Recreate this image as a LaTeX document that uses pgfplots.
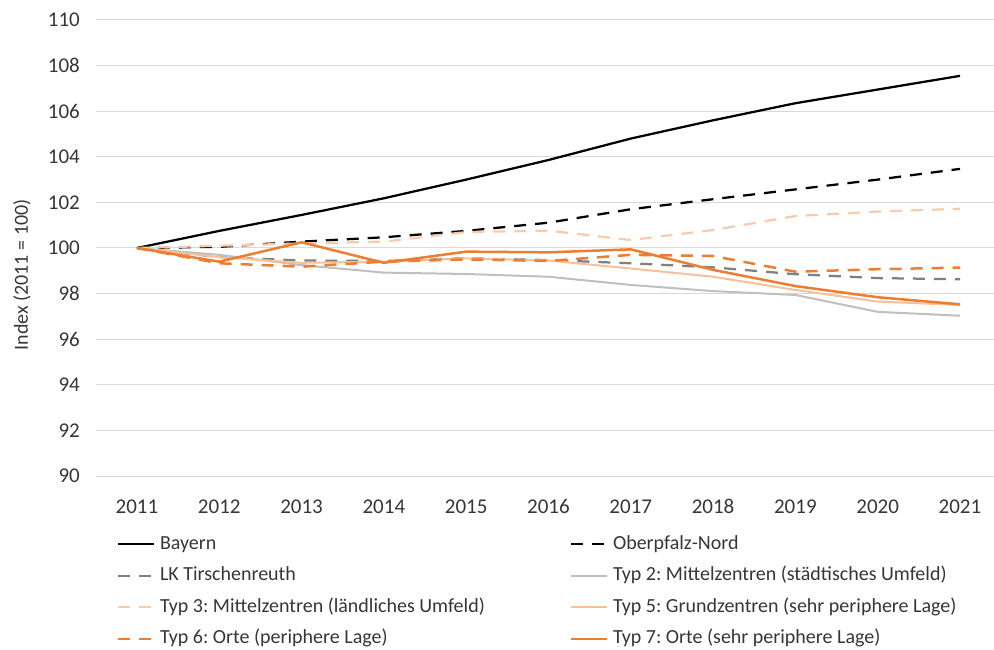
\documentclass[border=0pt]{standalone}
\usepackage{fontspec}
\setmainfont{Carlito}
\usepackage{pgfplots}
\pgfplotsset{compat=1.18}
\frenchspacing
\definecolor{txt}{HTML}{363636}
\definecolor{gridc}{HTML}{D9D9D9}
\definecolor{lkgrey}{HTML}{808080}
\definecolor{typtwo}{HTML}{BFBFBF}
\definecolor{typthree}{HTML}{F8CBAD}
\definecolor{typfive}{HTML}{F6C09A}
\definecolor{orng}{HTML}{ED7D31}
\newcommand{\lc}[1]{\makebox[410bp][l]{#1}}
\begin{document}
\begin{tikzpicture}
\begin{axis}[
  scale only axis, width=898bp, height=456bp,
  xmin=2010.502, xmax=2021.413, ymin=90, ymax=110,
  xtick={2011,...,2021}, ytick={90,92,...,110},
  ymajorgrids, grid style={gridc, line width=1bp},
  axis line style={draw=none}, major tick length=0pt,
  /pgf/number format/assume math mode=true,
  /pgf/number format/1000 sep={},
  tick label style={font=\fontsize{21bp}{25bp}\selectfont, text=txt},
  yticklabel style={inner sep=0pt, xshift=-16bp},
  xticklabel style={inner sep=0pt, text height=14bp, text depth=0pt, anchor=north, yshift=-23bp},
  ylabel={Index (2011 = 100)},
  every axis y label/.style={at={(axis description cs:-0.0824,0.4408)}, rotate=90, anchor=center, font=\fontsize{20bp}{24bp}\selectfont, text=txt},
  legend columns=2,
  legend image code/.code={\draw[#1] (0bp,0bp) -- (36bp,0bp);},
  legend style={draw=none, fill=none, inner sep=0pt, outer sep=0pt,
    at={(axis description cs:0.0234,-0.130)}, anchor=north west,
    font=\fontsize{20bp}{24bp}\selectfont, text=txt,
    nodes={inner sep=0pt, text height=14bp, text depth=4bp, anchor=west},
    row sep=13.5bp, column sep=0pt,
    /tikz/every odd column/.append style={column sep=4.5bp}},
  legend cell align=left,
]
\addplot[black, line width=2.25bp] coordinates {(2011,100) (2012,100.75) (2013,101.45) (2014,102.18) (2015,103.0) (2016,103.86) (2017,104.8) (2018,105.6) (2019,106.35) (2020,106.95) (2021,107.55)};
\addlegendentry{\lc{Bayern}}
\addplot[black, line width=2.25bp, dash pattern=on 12bp off 9bp] coordinates {(2011,100) (2012,100.05) (2013,100.28) (2014,100.47) (2015,100.75) (2016,101.11) (2017,101.7) (2018,102.14) (2019,102.57) (2020,103.0) (2021,103.47)};
\addlegendentry{Oberpfalz-Nord}
\addplot[lkgrey, line width=2.25bp, dash pattern=on 12bp off 9bp] coordinates {(2011,100) (2012,99.6) (2013,99.45) (2014,99.43) (2015,99.55) (2016,99.47) (2017,99.33) (2018,99.15) (2019,98.85) (2020,98.68) (2021,98.63)};
\addlegendentry{\lc{LK Tirschenreuth}}
\addplot[typtwo, line width=2bp] coordinates {(2011,100) (2012,99.7) (2013,99.25) (2014,98.92) (2015,98.86) (2016,98.74) (2017,98.38) (2018,98.11) (2019,97.94) (2020,97.2) (2021,97.03)};
\addlegendentry{Typ 2: Mittelzentren (städtisches Umfeld)}
\addplot[typthree, line width=2.25bp, dash pattern=on 12bp off 9bp] coordinates {(2011,100) (2012,100.1) (2013,100.2) (2014,100.28) (2015,100.7) (2016,100.76) (2017,100.35) (2018,100.79) (2019,101.4) (2020,101.6) (2021,101.72)};
\addlegendentry{\lc{Typ 3: Mittelzentren (ländliches Umfeld)}}
\addplot[typfive, line width=2bp] coordinates {(2011,100) (2012,99.6) (2013,99.35) (2014,99.4) (2015,99.55) (2016,99.45) (2017,99.1) (2018,98.74) (2019,98.16) (2020,97.65) (2021,97.5)};
\addlegendentry{Typ 5: Grundzentren (sehr periphere Lage)}
\addplot[orng, line width=2.5bp, dash pattern=on 12bp off 9bp] coordinates {(2011,100) (2012,99.33) (2013,99.18) (2014,99.4) (2015,99.5) (2016,99.43) (2017,99.7) (2018,99.65) (2019,98.96) (2020,99.07) (2021,99.14)};
\addlegendentry{\lc{Typ 6: Orte (periphere Lage)}}
\addplot[orng, line width=2.5bp] coordinates {(2011,100) (2012,99.4) (2013,100.25) (2014,99.35) (2015,99.84) (2016,99.81) (2017,99.94) (2018,99.04) (2019,98.33) (2020,97.84) (2021,97.53)};
\addlegendentry{Typ 7: Orte (sehr periphere Lage)}
\end{axis}
\pgfresetboundingbox
\path ([shift={(-96bp,-174bp)}]current axis.south west) rectangle ([shift={(898bp,476bp)}]current axis.south west);
\end{tikzpicture}
\end{document}
